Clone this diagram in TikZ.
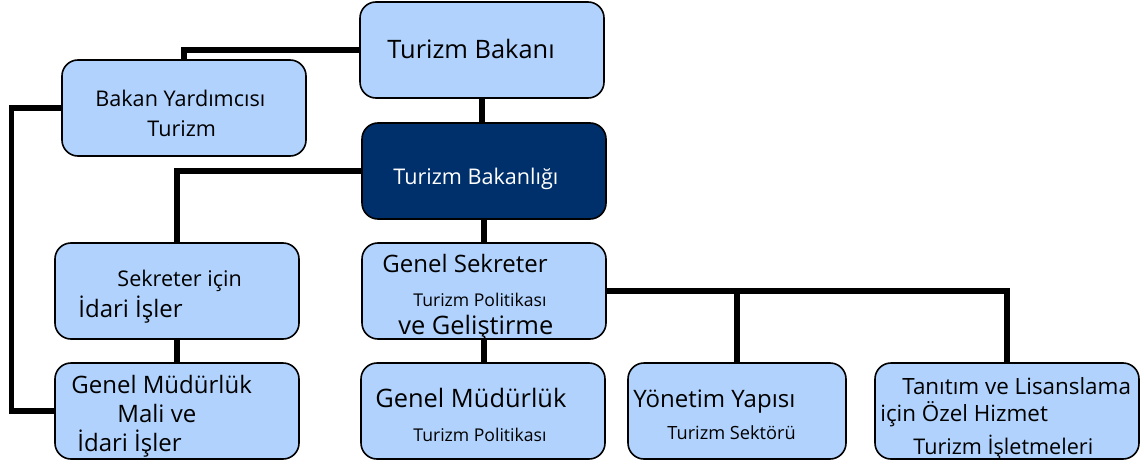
\documentclass[tikz,border=0pt]{standalone}
\usepackage{fontspec}
\setmainfont{Open Sans}
\usepackage{tikz}
\definecolor{acikmavi}{RGB}{176,210,252}
\definecolor{koyumavi}{RGB}{0,48,107}
\newcommand{\iri}{\fontsize{12.7}{15}\selectfont}
\newcommand{\buyuk}{\fontsize{12}{14}\selectfont}
\newcommand{\tbuyuk}{\fontsize{11.2}{13}\selectfont}
\newcommand{\orta}{\fontsize{10.8}{13}\selectfont}
\newcommand{\kucuk}{\fontsize{8.8}{10}\selectfont}

\tikzset{
  kutu/.style={draw=black, line width=0.8pt, fill=acikmavi, rounded corners=8pt,
    minimum width=122pt, minimum height=48pt, inner sep=0pt},
  koyukutu/.style={kutu, fill=koyumavi},
  hat/.style={line width=2.6pt, line join=miter},
  yazi/.style={inner sep=0pt, anchor=west, text height=1.15em, text depth=0.25em}
}

\begin{document}
\begin{tikzpicture}[x=0.5pt, y=-0.5pt]
	\useasboundingbox (0,0) rectangle (1144,465);
	% kutular
	\node[kutu] (bakan) at (482,50) {};
	\node[kutu] (yard) at (184,108) {};
	\node[koyukutu] (bakanlik) at (484,171) {};
	\node[kutu] (sekr) at (177,291) {};
	\node[kutu] (gensek) at (484,291) {};
	\node[kutu] (mali) at (177,411) {};
	\node[kutu] (gmtp) at (483,411) {};
	\node[kutu, minimum width=109pt] (yonetim) at (737,411) {};
	\node[kutu, minimum width=132pt] (tanitim) at (1007,411) {};
	% baglantilar
	\draw[hat] (bakan.west) -| (yard.north);
	\draw[hat] (bakan.south) -- (bakan.south |- bakanlik.north);
	\draw[hat] (yard.west) -- ++(-50,0) |- (mali.west);
	\draw[hat] (bakanlik.west) -| (sekr.north);
	\draw[hat] (bakanlik.south) -- (bakanlik.south |- gensek.north);
	\draw[hat] (sekr.south) -- (mali.north);
	\draw[hat] (gensek.south) -- (gensek.south |- gmtp.north);
	\draw[hat] (gensek.east) -| (yonetim.north);
	\draw[hat] (gensek.east) -| (tanitim.north);
	% yazilar
	\node[yazi] (bakan-y) at (387,50) {\iri Turizm Bakanı};
	\node[yazi] (yard-y1) at (95,97) {\orta Bakan Yardımcısı};
	\node[yazi] (yard-y2) at (147,127) {\orta Turizm};
	\node[yazi] (bakanlik-y) at (393,175) {\orta\color{white} Turizm Bakanlığı};
	\node[yazi] (sekr-y1) at (117,277) {\orta Sekreter için};
	\node[yazi] (sekr-y2) at (78,308) {\buyuk İdari İşler};
	\node[yazi] (gensek-y1) at (382,263) {\buyuk Genel Sekreter};
	\node[yazi] (gensek-y2) at (413,297) {\kucuk Turizm Politikası};
	\node[yazi] (gensek-y3) at (398,325) {\iri ve Geliştirme};
	\node[yazi] (mali-y1) at (71,384) {\buyuk Genel Müdürlük};
	\node[yazi] (mali-y2) at (117,413) {\buyuk Mali ve};
	\node[yazi] (mali-y3) at (77,442) {\buyuk İdari İşler};
	\node[yazi] (gmtp-y1) at (375,398) {\iri Genel Müdürlük};
	\node[yazi] (gmtp-y2) at (413,432) {\kucuk Turizm Politikası};
	\node[yazi] (yonetim-y1) at (633,398) {\buyuk Yönetim Yapısı};
	\node[yazi] (yonetim-y2) at (667,430) {\fontsize{9.1}{11}\selectfont Turizm Sektörü};
	\node[yazi] (tanitim-y1) at (902,385) {\tbuyuk Tanıtım ve Lisanslama};
	\node[yazi] (tanitim-y2) at (880,412) {\tbuyuk için Özel Hizmet};
	\node[yazi] (tanitim-y3) at (913,445) {\orta Turizm İşletmeleri};
\end{tikzpicture}
\end{document}
